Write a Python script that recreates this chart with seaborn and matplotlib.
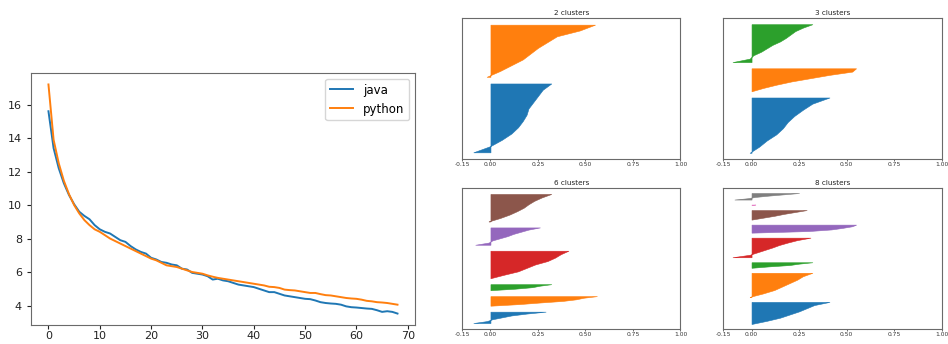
import numpy as np
import pandas as pd
import seaborn as sns
import matplotlib
matplotlib.use("Agg")
import matplotlib.pyplot as plt

# left chart: loss curves
epochs = list(range(69))
java = [15.6, 13.4, 12.2, 11.3, 10.6, 10.05, 9.6, 9.35, 9.15, 8.8,
        8.55, 8.4, 8.3, 8.1, 7.9, 7.8, 7.55, 7.35, 7.2, 7.1,
        6.85, 6.75, 6.6, 6.55, 6.45, 6.4, 6.2, 6.15, 5.95, 5.9,
        5.85, 5.75, 5.55, 5.6, 5.5, 5.45, 5.35, 5.25, 5.2, 5.15,
        5.1, 5.0, 4.9, 4.8, 4.8, 4.7, 4.6, 4.55, 4.5, 4.45,
        4.4, 4.38, 4.3, 4.2, 4.15, 4.12, 4.1, 4.05, 3.95, 3.9,
        3.88, 3.85, 3.82, 3.8, 3.72, 3.62, 3.66, 3.62, 3.52]
python = [17.2, 13.9, 12.5, 11.45, 10.65, 10.0, 9.5, 9.1, 8.8, 8.55,
          8.4, 8.2, 8.0, 7.85, 7.7, 7.55, 7.4, 7.25, 7.1, 6.95,
          6.8, 6.7, 6.55, 6.4, 6.35, 6.3, 6.2, 6.1, 6.0, 5.95,
          5.9, 5.8, 5.72, 5.65, 5.6, 5.55, 5.5, 5.45, 5.4, 5.35,
          5.3, 5.25, 5.2, 5.12, 5.1, 5.05, 4.95, 4.92, 4.9, 4.85,
          4.8, 4.75, 4.75, 4.68, 4.62, 4.6, 4.55, 4.5, 4.45, 4.42,
          4.4, 4.35, 4.28, 4.25, 4.2, 4.18, 4.15, 4.1, 4.05]

# silhouette profiles (sorted ascending), one list per cluster
sil2 = [[-0.09, 0.0, 0.06, 0.11, 0.145, 0.17, 0.19, 0.2, 0.225, 0.25, 0.275, 0.32],
        [-0.02, 0.05, 0.11, 0.17, 0.21, 0.25, 0.3, 0.35, 0.47, 0.55]]
size2 = [103, 78]

sil3 = [[-0.01, 0.04, 0.08, 0.13, 0.165, 0.19, 0.225, 0.27, 0.32, 0.41],
        [0.0, 0.06, 0.13, 0.21, 0.31, 0.41, 0.53, 0.55],
        [-0.1, -0.01, 0.01, 0.05, 0.08, 0.11, 0.15, 0.18, 0.205, 0.23, 0.27, 0.32]]
size3 = [89, 37, 61]

sil6 = [[-0.09, -0.02, 0.01, 0.06, 0.11, 0.19, 0.29],
        [0.0, 0.15, 0.26, 0.38, 0.45, 0.49, 0.56],
        [0.0, 0.13, 0.22, 0.26, 0.32],
        [0.0, 0.07, 0.145, 0.19, 0.235, 0.3, 0.34, 0.37, 0.41],
        [-0.08, -0.01, 0.01, 0.05, 0.09, 0.12, 0.16, 0.2, 0.26],
        [-0.01, 0.05, 0.1, 0.14, 0.175, 0.2, 0.23, 0.27, 0.32]]
size6 = [19, 16, 10, 46, 29, 46]

sil8 = [[0.0, 0.08, 0.15, 0.2, 0.25, 0.29, 0.33, 0.41],
        [-0.01, 0.06, 0.12, 0.16, 0.2, 0.24, 0.27, 0.32],
        [0.0, 0.09, 0.2, 0.25, 0.32],
        [-0.1, -0.01, 0.03, 0.07, 0.11, 0.145, 0.19, 0.24, 0.31],
        [0.0, 0.3, 0.42, 0.48, 0.53, 0.55],
        [0.0, 0.06, 0.12, 0.17, 0.23, 0.29],
        [0.0, 0.02],
        [-0.09, -0.02, 0.02, 0.09, 0.17, 0.25]]
size8 = [44, 48, 11, 39, 16, 19, 1, 13]

xticks = [-0.15, 0.0, 0.25, 0.5, 0.75, 1.0]
colors = sns.color_palette("tab10")
frame = "#6a6a6a"

fig = plt.figure(figsize=(9.48, 3.44), dpi=100)

ax = fig.add_axes([0.0327, 0.0552, 0.405, 0.7326])
df = pd.DataFrame({"epoch": epochs * 2,
                   "loss": java + python,
                   "lang": ["java"] * len(java) + ["python"] * len(python)})
sns.lineplot(data=df, x="epoch", y="loss", hue="lang", ax=ax,
             palette=colors[:2], linewidth=1.4)
ax.set_xlabel("")
ax.set_ylabel("")
ax.set_xticks(range(0, 71, 10))
ax.set_yticks(range(4, 17, 2))
ax.tick_params(labelsize=8, colors="#222222", length=3)
ax.tick_params(axis="x", pad=1.5)
for s in ax.spines.values():
    s.set_color(frame)
ax.legend(loc="upper right", fontsize=8.5, frameon=True)

panels = [(sil2, size2, "2 clusters", [0.4873, 0.5378]),
          (sil3, size3, "3 clusters", [0.7627, 0.5378]),
          (sil6, size6, "6 clusters", [0.4873, 0.0436]),
          (sil8, size8, "8 clusters", [0.7627, 0.0436])]

for sil, sizes, title, (x0, y0) in panels:
    a = fig.add_axes([x0, y0, 0.2305, 0.4099])
    gap = 10
    y_lower = gap
    for i, (vals, n) in enumerate(zip(sil, sizes)):
        ys = np.linspace(y_lower, y_lower + n, len(vals))
        a.fill_betweenx(ys, 0, vals, facecolor=colors[i], edgecolor=colors[i], linewidth=0.4)
        y_lower += n + gap
    a.set_xlim(-0.15, 1.0)
    a.set_ylim(0, y_lower)
    a.set_yticks([])
    a.set_xticks(xticks)
    a.set_xticklabels([f"{t:.2f}" for t in xticks])
    a.tick_params(labelsize=4.3, length=1.5, width=0.5, pad=1, colors="#333333")
    a.set_title(title, fontsize=5.2, pad=2, color="#222222")
    for s in a.spines.values():
        s.set_color(frame)
        s.set_linewidth(0.8)

fig.savefig("out.png", dpi=100)
